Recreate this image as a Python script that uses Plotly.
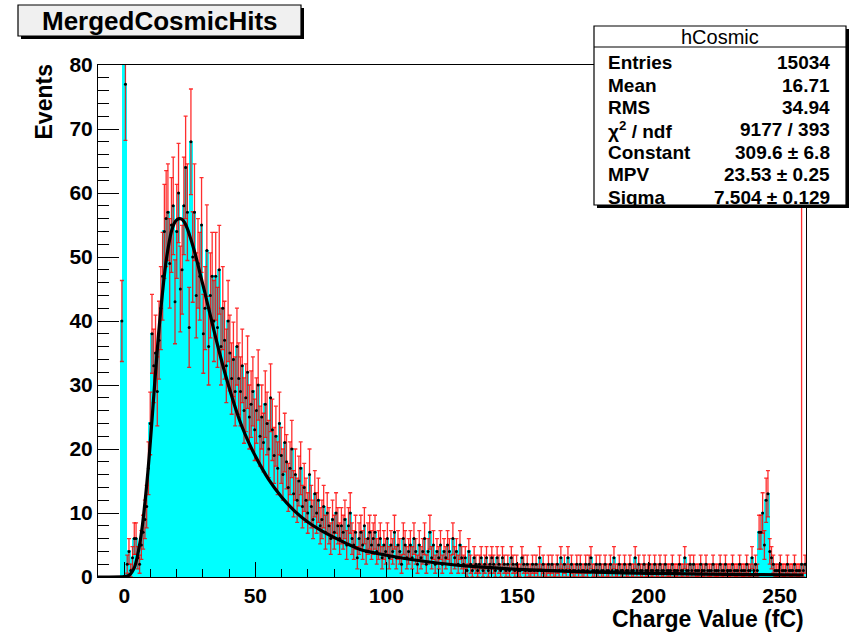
import numpy as np
import plotly.graph_objects as go

# ---------------- data ----------------
x_min, x_max = -10.0, 260.0
n_bins = 400

counts_left_empty = [0, 0, 0, 0, 0, 0, 0, 0, 0, 0, 0, 0, 0]
counts_spike = [40, 11500, 77]
counts_rise = [2, 4, 1, 3, 6, 6, 3, 2, 5, 7,
               9, 11, 17, 24, 38, 33, 35, 29, 37, 42]
counts_peak = [47, 54, 56, 57, 49, 55, 58, 43, 54, 60,
               45, 48, 58, 64, 57, 39, 68, 50, 57, 44,
               49, 47, 55, 38, 42, 51, 36, 44, 47, 40,
               47, 39, 48, 36, 42, 37, 33, 40, 35, 31]
counts_falloff = [34, 29, 36, 31, 29, 33, 26, 28, 32, 25,
                  27, 29, 23, 26, 30, 22, 25, 21, 27, 24,
                  20, 28, 23, 19, 22, 17, 24, 19, 16, 21,
                  18, 14, 17, 20, 13, 16, 12, 15, 17, 11,
                  14, 12, 10, 16, 11, 9, 13, 10, 12, 8]
counts_tail = [9, 11, 7, 10, 8, 6, 9, 7, 10, 8,
               6, 8, 7, 9, 5, 8, 10, 6, 5, 7,
               3, 6, 7, 5, 8, 4, 6, 7, 5, 6,
               7, 4, 5, 6, 3, 5, 4, 6, 3, 5,
               4, 7, 3, 5, 4, 2, 6, 5, 3, 4,
               5, 3, 6, 4, 2, 5, 3, 4, 6, 2,
               4, 7, 3, 5, 2, 4, 3, 5, 2, 4,
               3, 5, 4, 2, 6, 3, 4, 2, 5, 3]
counts_far_tail = [2, 3, 1, 4, 2, 1, 3, 2, 1, 2,
                   3, 1, 2, 3, 1, 2, 3, 2, 1, 3,
                   2, 1, 3, 2, 1, 2, 1, 3, 2, 1,
                   2, 1, 1, 3, 2, 1, 2, 1, 1, 2,
                   1, 2, 1, 3, 1, 2, 1, 1, 2, 1,
                   2, 1, 1, 2, 1, 3, 1, 2, 1, 3,
                   1, 2, 1, 1, 2, 1, 2, 1, 1, 2,
                   1, 2, 3, 1, 1, 2, 1, 2, 1, 1,
                   2, 1, 1, 2, 1, 3, 1, 1, 2, 1,
                   1, 2, 1, 1, 2, 1, 1, 3, 1, 2,
                   1, 1, 2, 1, 1, 2, 1, 1, 2, 1,
                   1, 2, 1, 1, 2, 1, 1, 1, 2, 1,
                   1, 1, 2, 1, 1, 3, 1, 1, 2, 1,
                   2, 1, 1, 1, 2, 1, 1, 2, 1, 1,
                   1, 2, 1, 1, 1, 2, 1, 1, 2, 1,
                   1, 1, 2, 1, 1, 1, 2, 1, 1, 1,
                   2, 1, 1, 3, 1, 2]
counts_bump = [1, 7, 7, 10, 5, 12, 13, 4, 3, 2, 1]
counts_end = [1, 1, 2, 1, 1, 1, 2, 1, 1, 1, 2, 1, 1, 1, 2, 1, 2]

# bin whose error bar runs to the top of the frame
tall_error_bin = 397
tall_error_plus = 85.0

# Landau fit curve
fit_x = [-10, 0, 2, 3, 4, 5, 6, 7, 8, 9, 10, 11, 12, 13, 14, 15, 16, 17, 18, 19,
         20, 21, 22, 23, 24, 25, 26, 27.5, 29, 31, 33, 35, 37.5, 40, 42.5, 45,
         47.5, 50, 55, 60, 65, 70, 75, 80, 90, 100, 110, 120, 130, 140, 150,
         165, 180, 200, 220, 240, 259]
fit_y = [0, 0.05, 0.3, 0.8, 1.6, 3.2, 5.4, 8.3, 12.0, 16.3, 21.3, 26.8, 32.3,
         37.5, 42.0, 46.0, 49.4, 52.0, 54.0, 55.2, 55.8, 56.0, 55.9, 55.4, 54.5,
         53.3, 52.0, 49.8, 47.3, 44.0, 40.6, 37.2, 33.2, 29.6, 26.3, 23.4, 21.0,
         18.9, 15.3, 12.5, 10.3, 8.6, 7.3, 6.2, 4.3, 3.4, 2.7, 2.15, 1.75, 1.45,
         1.2, 0.95, 0.75, 0.58, 0.46, 0.37, 0.31]

title_text = "MergedCosmicHits"
stats_name = "hCosmic"
stats_labels = ["Entries", "Mean", "RMS", "χ<sup>2</sup> / ndf", "Constant", "MPV", "Sigma"]
stats_values = ["15034", "16.71", "34.94", "9177 / 393", "309.6 ± 6.8",
                "23.53 ± 0.25", "7.504 ± 0.129"]
x_title = "Charge Value (fC)"
y_title = "Events"

# ---------------- build ----------------
counts = np.array(counts_left_empty + counts_spike + counts_rise + counts_peak +
                  counts_falloff + counts_tail + counts_far_tail + counts_bump +
                  counts_end, dtype=float)
assert len(counts) == n_bins
bin_width = (x_max - x_min) / n_bins
centers = x_min + bin_width * (np.arange(n_bins) + 0.5)

err_plus = np.sqrt(counts)
err_minus = np.sqrt(counts)
err_plus[tall_error_bin] = tall_error_plus
nz = counts > 0

FONT = "Liberation Sans"
W, H = 856, 634
L, R, T, B = 98, 50, 65, 57
PW, PH = W - L - R, H - T - B


def px(xp):
    return (xp - L) / PW


def py(yp):
    return (H - B - yp) / PH


fig = go.Figure()
fig.add_trace(go.Bar(x=centers, y=counts, width=bin_width,
                     marker=dict(color="#00ffff", line=dict(width=2, color="#00ffff")),
                     hoverinfo="skip"))
fig.add_trace(go.Scatter(
    x=centers[nz], y=counts[nz], mode="markers",
    marker=dict(color="black", size=3),
    error_y=dict(type="data", symmetric=False, array=err_plus[nz],
                 arrayminus=err_minus[nz], color="rgba(255,0,0,0.82)",
                 thickness=1.3, width=2)))
fig.add_trace(go.Scatter(x=fit_x, y=fit_y, mode="lines",
                         line=dict(color="black", width=3.2, shape="spline",
                                   smoothing=0.6)))

shapes = [
    dict(type="rect", xref="paper", yref="paper", x0=px(21), x1=px(304),
         y0=py(8), y1=py(39), fillcolor="black", line=dict(width=0)),
    dict(type="rect", xref="paper", yref="paper", x0=px(18), x1=px(301),
         y0=py(5), y1=py(36), fillcolor="#f0f0f0", line=dict(color="black", width=1.2)),
    dict(type="rect", xref="paper", yref="paper", x0=px(597), x1=px(849),
         y0=py(29), y1=py(208), fillcolor="black", line=dict(width=0)),
    dict(type="rect", xref="paper", yref="paper", x0=px(594), x1=px(846),
         y0=py(26), y1=py(205), fillcolor="white", line=dict(color="black", width=1.2)),
    dict(type="line", xref="paper", yref="paper", x0=px(594), x1=px(846),
         y0=py(47), y1=py(47), line=dict(color="black", width=1.2)),
]

ann = [
    dict(text=title_text, x=px(159.5), y=py(21), xanchor="center", yanchor="middle",
         font=dict(family=FONT, size=26, weight="bold", color="black")),
    dict(text=stats_name, x=px(720), y=py(37), xanchor="center", yanchor="middle",
         font=dict(family=FONT, size=20, color="black")),
    dict(text=y_title, x=px(43.5), y=py(102), xanchor="center", yanchor="middle",
         textangle=-90, font=dict(family=FONT, size=23, weight="bold", color="black")),
    dict(text=x_title, x=px(806), y=py(619), xanchor="right", yanchor="middle",
         font=dict(family=FONT, size=23, weight="bold", color="black")),
]
row_y0, row_dy = 62.7, 22.43
for k, (lab, val) in enumerate(zip(stats_labels, stats_values)):
    yy = row_y0 + k * row_dy
    ann.append(dict(text=lab, x=px(606), y=py(yy), xanchor="left", yanchor="middle",
                    font=dict(family=FONT, size=19, weight="bold", color="black")))
    ann.append(dict(text=val, x=px(832), y=py(yy), xanchor="right", yanchor="middle",
                    font=dict(family=FONT, size=19, weight="bold", color="black")))
for a in ann:
    a.update(xref="paper", yref="paper", showarrow=False)

tickfont = dict(family=FONT, size=21, weight="bold", color="black")
fig.update_layout(
    width=W, height=H, margin=dict(l=L, r=R, t=T, b=B, pad=0),
    plot_bgcolor="white", paper_bgcolor="white", showlegend=False,
    bargap=0, shapes=shapes, annotations=ann,
    xaxis=dict(range=[x_min, x_max], tick0=0, dtick=50, ticks="inside",
               ticklen=15, tickwidth=1, tickcolor="black",
               minor=dict(dtick=10, ticks="inside", ticklen=8, tickcolor="black"),
               showline=True, mirror=True, linecolor="black", linewidth=1,
               showgrid=False, zeroline=False, tickfont=tickfont),
    yaxis=dict(range=[0, 80], tick0=0, dtick=10, ticks="inside",
               ticklen=21, tickwidth=1, tickcolor="black",
               minor=dict(dtick=2, ticks="inside", ticklen=11, tickcolor="black"),
               showline=True, mirror=True, linecolor="black", linewidth=1,
               showgrid=False, zeroline=False, tickfont=tickfont),
)

fig.write_html("out.html",
               config={"displayModeBar": False},
               post_script="document.body.style.margin='0px';"
                           "document.body.style.padding='0px';"
                           "document.body.style.overflow='hidden';")
